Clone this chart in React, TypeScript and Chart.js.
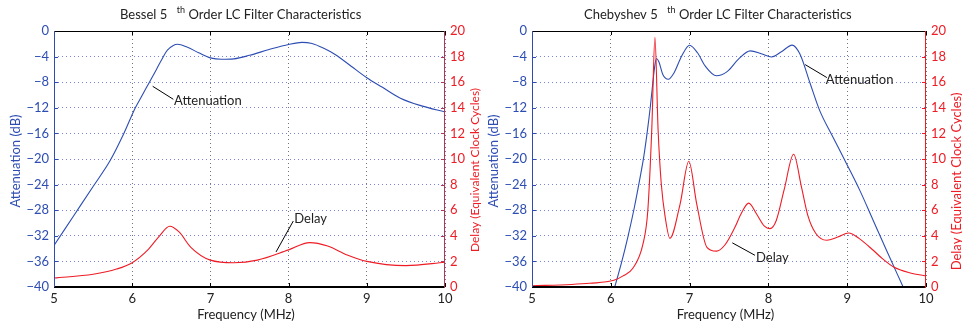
import React, { useEffect, useRef } from "react";
import { Chart, registerables } from "chart.js";
Chart.register(...registerables);

// ---- ticks ----
const freqTicks = [5, 6, 7, 8, 9, 10];
const attTicks = [-40, -36, -32, -28, -24, -20, -16, -12, -8, -4, 0];
const delayTicks = [0, 2, 4, 6, 8, 10, 12, 14, 16, 18, 20];

// ---- Bessel ----
const besselAttFreq = [5.0, 5.25, 5.5, 5.72, 5.89, 6.04, 6.13, 6.22, 6.31, 6.38, 6.45, 6.52, 6.58, 6.7, 6.85, 7.0, 7.14, 7.3, 7.5, 7.75, 8.0, 8.17, 8.3, 8.45, 8.6, 8.8, 9.0, 9.2, 9.43, 9.7, 10.0];
const besselAttDb = [-33.5, -28.9, -24.3, -20.2, -16.1, -12, -10, -8, -6, -4.4, -3.0, -2.3, -2.08, -2.5, -3.4, -4.2, -4.42, -4.35, -3.8, -2.9, -2.1, -1.77, -1.95, -2.7, -3.7, -5.5, -7.3, -8.8, -10.5, -11.7, -12.65];
const besselDelayFreq = [5.0, 5.5, 5.8, 6.0, 6.2, 6.35, 6.48, 6.6, 6.75, 7.0, 7.3, 7.6, 8.0, 8.27, 8.5, 8.75, 9.0, 9.5, 10.0];
const besselDelay = [0.7, 1.0, 1.4, 1.9, 2.9, 4.0, 4.75, 4.3, 3.1, 2.1, 1.9, 2.1, 2.9, 3.47, 3.2, 2.5, 2.0, 1.67, 1.93];

// ---- Chebyshev ----
const chebAttFreq = [6.05, 6.14, 6.22, 6.3, 6.37, 6.42, 6.46, 6.5, 6.53, 6.56, 6.58, 6.61, 6.66, 6.73, 6.8, 6.9, 7.0, 7.1, 7.2, 7.34, 7.48, 7.62, 7.77, 7.92, 8.04, 8.17, 8.3, 8.4, 8.53, 8.65, 8.82, 8.99, 9.16, 9.33, 9.5, 9.71];
const chebAttDb = [-40, -36, -32, -27.5, -23, -19.5, -16, -12, -8.5, -5.3, -4.3, -4.8, -6.8, -7.55, -6.6, -3.9, -2.23, -3.4, -5.5, -7.0, -6.3, -4.4, -3.1, -3.6, -4.06, -3.2, -2.2, -3.6, -8.2, -12.4, -16.6, -20.7, -24.9, -29.6, -34.3, -40];
const chebDelayFreq = [5.0, 5.5, 5.73, 6.04, 6.15, 6.28, 6.41, 6.47, 6.52, 6.56, 6.6, 6.64, 6.69, 6.75, 6.88, 6.99, 7.09, 7.22, 7.34, 7.45, 7.57, 7.66, 7.75, 7.85, 7.95, 8.02, 8.1, 8.2, 8.32, 8.42, 8.5, 8.6, 8.74, 8.88, 9.02, 9.15, 9.33, 9.45, 9.59, 9.8, 10.0];
const chebDelay = [0.1, 0.2, 0.29, 0.52, 0.85, 1.46, 3.4, 6.0, 12.3, 19.5, 12.3, 8.1, 5.47, 3.8, 6.5, 9.82, 6.5, 3.1, 2.8, 3.3, 4.6, 5.8, 6.55, 5.7, 4.75, 4.56, 5.2, 7.6, 10.37, 7.8, 5.6, 4.2, 3.65, 3.9, 4.22, 3.8, 2.87, 2.2, 1.56, 1.1, 0.86];

const BLUE = "#2d4db3";
const RED = "#ee1c25";
const FONT = "Lato, 'Open Sans', sans-serif";
const TEXT = "#222";
const FS = 13;

const fmtMinus = (v: number) => (v < 0 ? "\u2212" + Math.abs(v) : String(v));

type Annot = { f1: number; a1: number; f2: number; a2: number; text: string; tf: number; ta: number };

type Opts = {
  canvasW: number;
  leftW: number;
  rightW: number;
  titleMain: string;
  titleRest: string;
  titleOffset: number;
  rightBorder: string;
  attF: number[];
  attY: number[];
  delF: number[];
  delY: number[];
  annots: Annot[];
  delayTitleY: number;
  delayTitleSize: number;
};

function makeChart(canvas: HTMLCanvasElement, o: Opts) {
  const line = (ctx: CanvasRenderingContext2D, x1: number, y1: number, x2: number, y2: number) => {
    ctx.beginPath();
    ctx.moveTo(x1, y1);
    ctx.lineTo(x2, y2);
    ctx.stroke();
  };
  const deco = {
    id: "deco",
    afterDraw(chart: any) {
      const ctx: CanvasRenderingContext2D = chart.ctx;
      const { left, right, top, bottom } = chart.chartArea;
      const xs = chart.scales.x, ya = chart.scales.yA, yd = chart.scales.yD;
      ctx.save();
      ctx.lineWidth = 1;
      // inward ticks
      ctx.strokeStyle = "#000";
      freqTicks.forEach((v) => {
        const px = Math.round(xs.getPixelForValue(v)) + 0.5;
        line(ctx, px, bottom, px, bottom - 4);
        line(ctx, px, top, px, top + 4);
      });
      ctx.strokeStyle = BLUE;
      attTicks.forEach((v) => {
        const py = Math.round(ya.getPixelForValue(v)) + 0.5;
        line(ctx, left, py, left + 4, py);
      });
      ctx.strokeStyle = o.rightBorder;
      delayTicks.forEach((v) => {
        const py = Math.round(yd.getPixelForValue(v)) + 0.5;
        line(ctx, right - 4, py, right, py);
      });
      // box
      ctx.strokeStyle = "#000";
      line(ctx, left, Math.round(top) + 0.5, right, Math.round(top) + 0.5);
      ctx.lineWidth = 2;
      line(ctx, left, Math.round(bottom), right, Math.round(bottom));
      ctx.lineWidth = 1;
      ctx.strokeStyle = BLUE;
      line(ctx, Math.round(left) + 0.5, top, Math.round(left) + 0.5, bottom);
      ctx.strokeStyle = o.rightBorder;
      line(ctx, Math.round(right) - 0.5, top, Math.round(right) - 0.5, bottom + 1);

      // title
      ctx.fillStyle = TEXT;
      ctx.textBaseline = "middle";
      ctx.textAlign = "left";
      ctx.font = `${FS}px ${FONT}`;
      let x = left + o.titleOffset;
      const ty = 15;
      ctx.fillText(o.titleMain, x, ty);
      x += ctx.measureText(o.titleMain).width + 9.5;
      ctx.font = `9px ${FONT}`;
      ctx.fillText("th", x, ty - 5);
      x += ctx.measureText("th").width + 3.5;
      ctx.font = `${FS}px ${FONT}`;
      ctx.fillText(o.titleRest, x, ty);

      // x axis title
      ctx.textAlign = "center";
      ctx.fillText("Frequency (MHz)", (left + right) / 2 - 3.5, 315);

      // y axis titles
      ctx.save();
      ctx.translate(left - 38.5, (top + bottom) / 2 + 2);
      ctx.rotate(-Math.PI / 2);
      ctx.fillStyle = BLUE;
      ctx.fillText("Attenuation (dB)", 0, 0);
      ctx.restore();
      ctx.save();
      ctx.translate(right + 30.5, o.delayTitleY);
      ctx.rotate(-Math.PI / 2);
      ctx.fillStyle = RED;
      ctx.font = `${o.delayTitleSize}px ${FONT}`;
      ctx.fillText("Delay (Equivalent Clock Cycles)", 0, 0);
      ctx.restore();

      // annotations
      ctx.strokeStyle = "#000";
      ctx.lineWidth = 1;
      ctx.fillStyle = TEXT;
      ctx.textAlign = "left";
      ctx.font = `${FS}px ${FONT}`;
      o.annots.forEach((a) => {
        line(ctx, xs.getPixelForValue(a.f1), ya.getPixelForValue(a.a1), xs.getPixelForValue(a.f2), ya.getPixelForValue(a.a2));
        ctx.fillText(a.text, xs.getPixelForValue(a.tf), ya.getPixelForValue(a.ta));
      });
      ctx.restore();
    },
  };

  const tickFont = { family: FONT, size: FS };
  return new Chart(canvas, {
    type: "line",
    data: {
      datasets: [
        {
          data: o.delF.map((f, i) => ({ x: f, y: o.delY[i] })),
          yAxisID: "yD",
          borderColor: RED,
          borderWidth: 1.1,
          pointRadius: 0,
          cubicInterpolationMode: "monotone",
          fill: false,
        },
        {
          data: o.attF.map((f, i) => ({ x: f, y: o.attY[i] })),
          yAxisID: "yA",
          borderColor: BLUE,
          borderWidth: 1.1,
          pointRadius: 0,
          cubicInterpolationMode: "monotone",
          fill: false,
        },
      ],
    },
    options: {
      responsive: false,
      animation: false,
      events: [],
      devicePixelRatio: 1,
      layout: { padding: { top: 31, left: 0, right: 0, bottom: 0 } },
      plugins: { legend: { display: false }, tooltip: { enabled: false }, title: { display: false } },
      scales: {
        x: {
          type: "linear",
          min: 5,
          max: 10,
          afterBuildTicks: (s: any) => {
            s.ticks = freqTicks.map((v) => ({ value: v }));
          },
          afterFit: (s: any) => {
            s.height = 42;
          },
          grid: { color: "rgba(70,70,70,0.75)", lineWidth: 1, drawTicks: false, borderDash: [1, 3] } as any,
          border: { display: false, dash: [1, 3] } as any,
          ticks: { color: TEXT, font: tickFont, padding: 4, maxRotation: 0, callback: (v: any) => String(v) },
        },
        yA: {
          type: "linear",
          position: "left",
          min: -40,
          max: 0,
          afterBuildTicks: (s: any) => {
            s.ticks = attTicks.map((v) => ({ value: v }));
          },
          afterFit: (s: any) => {
            s.width = o.leftW;
          },
          grid: { color: "rgba(80,90,210,0.75)", lineWidth: 1, drawTicks: false, borderDash: [1, 3] } as any,
          border: { display: false, dash: [1, 3] } as any,
          ticks: { color: BLUE, font: tickFont, padding: 5, callback: (v: any) => fmtMinus(Number(v)) },
        },
        yD: {
          type: "linear",
          position: "right",
          min: 0,
          max: 20,
          afterBuildTicks: (s: any) => {
            s.ticks = delayTicks.map((v) => ({ value: v }));
          },
          afterFit: (s: any) => {
            s.width = o.rightW;
          },
          grid: { display: false, drawTicks: false },
          border: { display: false },
          ticks: { color: RED, font: tickFont, padding: 5, callback: (v: any) => String(v) },
        },
      },
    } as any,
    plugins: [deco],
  });
}

const leftOpts: Opts = {
  canvasW: 485,
  leftW: 54,
  rightW: 40,
  titleMain: "Bessel 5",
  titleRest: "Order LC Filter Characteristics",
  titleOffset: 66,
  rightBorder: "#b3345c",
  attF: besselAttFreq,
  attY: besselAttDb,
  delF: besselDelayFreq,
  delY: besselDelay,
  annots: [
    { f1: 6.262, a1: -8.64, f2: 6.526, a2: -10.67, text: "Attenuation", tf: 6.535, ta: -10.94 },
    { f1: 7.839, a1: -34.53, f2: 8.06, a2: -29.69, text: "Delay", tf: 8.073, ta: -29.42 },
  ],
  delayTitleY: 170,
  delayTitleSize: 12,
};

const rightOpts: Opts = {
  canvasW: 477,
  leftW: 47,
  rightW: 36,
  titleMain: "Chebyshev 5",
  titleRest: "Order LC Filter Characteristics",
  titleOffset: 52,
  rightBorder: RED,
  attF: chebAttFreq,
  attY: chebAttDb,
  delF: chebDelayFreq,
  delY: chebDelay,
  annots: [
    { f1: 8.466, a1: -5.25, f2: 8.742, a2: -7.28, text: "Attenuation", tf: 8.729, ta: -7.66 },
    { f1: 7.542, a1: -33.1, f2: 7.83, a2: -35.05, text: "Delay", tf: 7.843, ta: -35.4 },
  ],
  delayTitleY: 181.5,
  delayTitleSize: 13,
};

function Panel({ opts, x }: { opts: Opts; x: number }) {
  const ref = useRef<HTMLCanvasElement | null>(null);
  useEffect(() => {
    if (!ref.current) return;
    const c = makeChart(ref.current, opts);
    return () => c.destroy();
  }, [opts]);
  return (
    <canvas
      ref={ref}
      width={opts.canvasW}
      height={329}
      style={{ position: "absolute", left: x, top: 0, width: opts.canvasW, height: 329 }}
    />
  );
}

export default function App() {
  return (
    <div style={{ position: "fixed", left: 0, top: 0, width: 962, height: 329, background: "#fff" }}>
      <Panel opts={leftOpts} x={0} />
      <Panel opts={rightOpts} x={485} />
    </div>
  );
}
